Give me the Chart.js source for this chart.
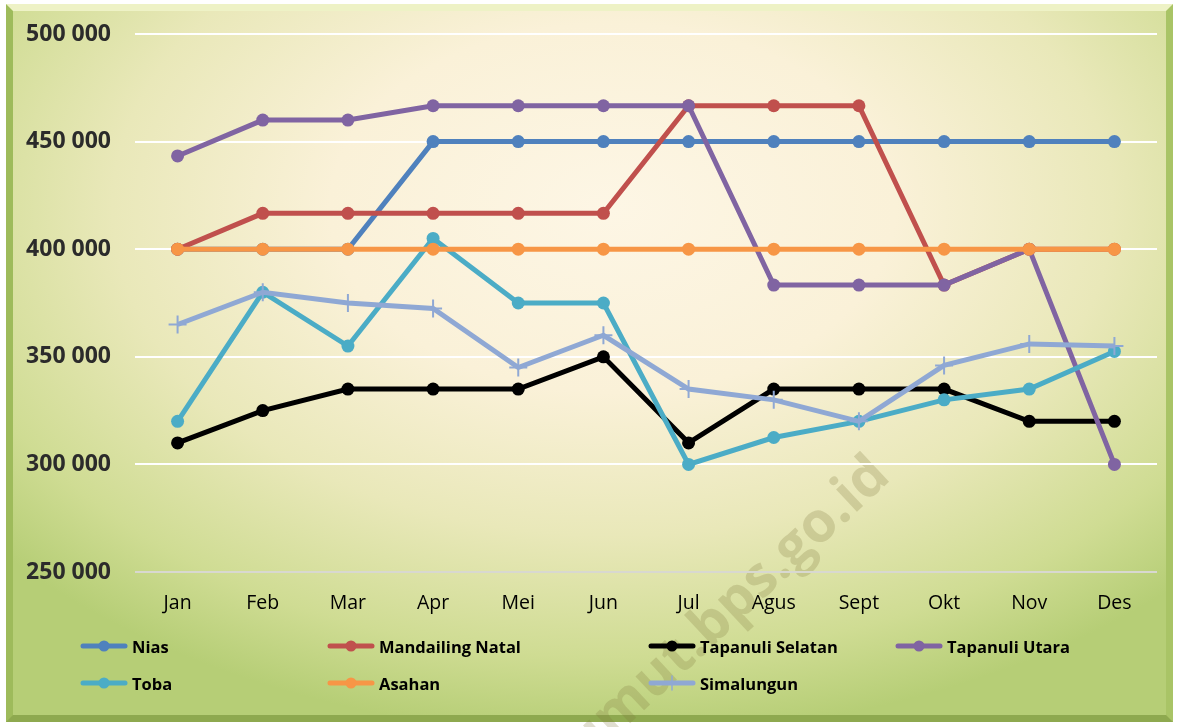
<!DOCTYPE html>
<html>
<head>
<meta charset="utf-8">
<script src="https://cdn.jsdelivr.net/npm/chart.js@4"></script>
<style>
  html, body { margin: 0; padding: 0; background: #fff; }
  #wrap { position: relative; width: 1177px; height: 727px; overflow: hidden; }
  #frame {
    position: absolute; left: 6px; top: 4px; width: 1153px; height: 704px;
    border-style: solid; border-width: 7px;
    border-color: #eef2c6 #a9c466 #8ea94f #9ebb5b;
    background: radial-gradient(ellipse 70% 75% at 52% 28%, #fdf6e5 0%, #faf1d8 35%, #e9e8b9 62%, #cfdc93 85%, #b6ce76 100%);
    overflow: hidden;
  }
  #mark {
    position: absolute; left: 714px; top: 615px;
    transform: translate(-50%, -50%) rotate(-43deg);
    font: bold 56px "Open Sans", sans-serif; color: rgba(125, 115, 60, 0.24);
    white-space: nowrap;
  }
  canvas { position: absolute; left: 0; top: 0; }
  #legend { position: absolute; left: 0; top: 0; width: 1177px; height: 727px; pointer-events: none; }
  .item { position: absolute; display: flex; align-items: center; font: bold 16.5px "Open Sans", sans-serif; color: #000; }
  .item canvas { position: static; margin-right: 4px; }
</style>
</head>
<body>
<div id="wrap">
  <div id="frame"></div>
  <div id="mark">sumut.bps.go.id</div>
  <canvas id="chart" width="1177" height="727"></canvas>
  <div id="legend"></div>
</div>
<script>
const months = ['Jan', 'Feb', 'Mar', 'Apr', 'Mei', 'Jun', 'Jul', 'Agus', 'Sept', 'Okt', 'Nov', 'Des'];

const nias = [400000, 400000, 400000, 450000, 450000, 450000, 450000, 450000, 450000, 450000, 450000, 450000];
const mandailingNatal = [400000, 416667, 416667, 416667, 416667, 416667, 466667, 466667, 466667, 383333, 400000, 400000];
const tapanuliSelatan = [310000, 325000, 335000, 335000, 335000, 350000, 310000, 335000, 335000, 335000, 320000, 320000];
const tapanuliUtara = [443333, 460000, 460000, 466667, 466667, 466667, 466667, 383333, 383333, 383333, 400000, 300000];
const toba = [320000, 380000, 355000, 405000, 375000, 375000, 300000, 312500, 320000, 330000, 335000, 352500];
const asahan = [400000, 400000, 400000, 400000, 400000, 400000, 400000, 400000, 400000, 400000, 400000, 400000];
const simalungun = [365000, 380000, 375000, 372500, 345000, 360000, 335000, 330000, 320000, 346000, 356000, 355000];

const seriesNames = ['Nias', 'Mandailing Natal', 'Tapanuli Selatan', 'Tapanuli Utara', 'Toba', 'Asahan', 'Simalungun'];
const seriesData = [nias, mandailingNatal, tapanuliSelatan, tapanuliUtara, toba, asahan, simalungun];
const colors = ['#4f81bd', '#c0504d', '#000000', '#8064a2', '#4bacc6', '#f79646', '#8fa8d4'];

const yTicks = [250000, 300000, 350000, 400000, 450000, 500000];

const fmt = v => String(v).replace(/\B(?=(\d{3})+(?!\d))/g, ' ');

const datasets = seriesNames.map((name, i) => {
  const cross = name === 'Simalungun';
  return {
    label: name,
    data: seriesData[i],
    borderColor: colors[i],
    backgroundColor: colors[i],
    borderWidth: 5,
    pointStyle: cross ? 'cross' : 'circle',
    pointRadius: cross ? 9 : 6.5,
    pointBorderWidth: cross ? 2 : 0,
    pointBorderColor: colors[i],
    pointBackgroundColor: colors[i],
    tension: 0,
    order: seriesNames.length - i
  };
});

new Chart(document.getElementById('chart').getContext('2d'), {
  type: 'line',
  data: { labels: months, datasets },
  options: {
    responsive: false,
    animation: false,
    layout: { padding: { top: 34, right: 20, bottom: 110, left: 0 } },
    plugins: { legend: { display: false }, tooltip: { enabled: false } },
    scales: {
      x: {
        offset: true,
        grid: { display: false, drawTicks: false },
        border: { display: false },
        ticks: { color: '#000', padding: 20, maxRotation: 0, font: { family: 'Open Sans', size: 19.5 } },
        afterFit: s => { s.height = 45; }
      },
      y: {
        min: 250000,
        max: 500000,
        afterBuildTicks: s => { s.ticks = yTicks.map(v => ({ value: v })); },
        grid: {
          drawTicks: false,
          lineWidth: 2,
          color: c => c.tick && c.tick.value === 250000 ? '#d8d8d0' : '#ffffff'
        },
        border: { display: false },
        ticks: {
          color: '#2b2b2b',
          padding: 24,
          font: { family: 'Open Sans', size: 23, weight: 'bold' },
          callback: v => fmt(v)
        },
        afterFit: s => { s.width = 135; s.paddingTop = 0; s.paddingBottom = 0; }
      }
    }
  }
});

// legend laid out like the original: 4 columns, 2 rows
const colX = [80, 327, 648, 895];
const rowY = [646, 683];
const legend = document.getElementById('legend');
seriesNames.forEach((name, i) => {
  const item = document.createElement('div');
  item.className = 'item';
  item.style.left = colX[i % 4] + 'px';
  item.style.top = (rowY[Math.floor(i / 4)] - 12) + 'px';
  item.style.height = '24px';
  const sw = document.createElement('canvas');
  sw.width = 48; sw.height = 20;
  const g = sw.getContext('2d');
  g.strokeStyle = colors[i];
  g.lineWidth = 5;
  g.lineCap = 'round';
  g.beginPath(); g.moveTo(3, 10); g.lineTo(45, 10); g.stroke();
  g.fillStyle = colors[i];
  if (name === 'Simalungun') {
    g.lineWidth = 1.5;
    g.beginPath(); g.moveTo(24, 3); g.lineTo(24, 17); g.stroke();
  } else {
    g.beginPath(); g.arc(24, 10, 5.5, 0, Math.PI * 2); g.fill();
  }
  item.appendChild(sw);
  const t = document.createElement('span');
  t.textContent = name;
  item.appendChild(t);
  legend.appendChild(item);
});
</script>
</body>
</html>
